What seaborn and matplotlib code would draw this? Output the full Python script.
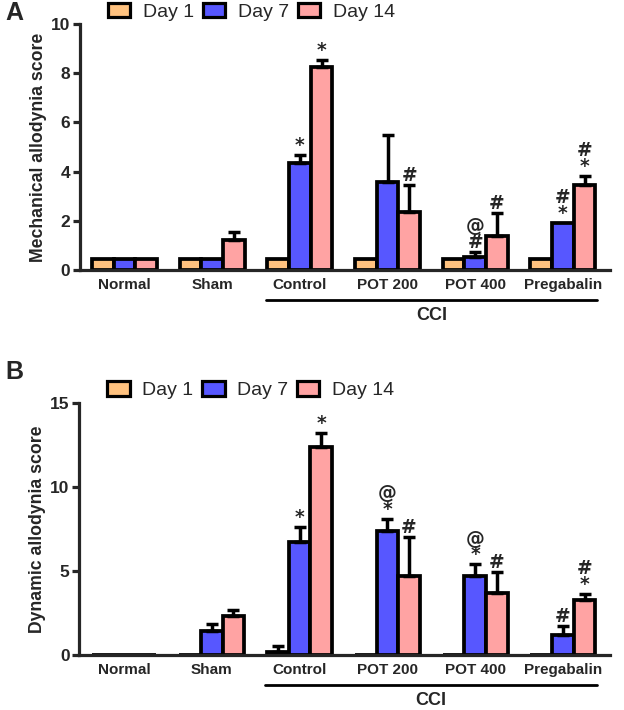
import numpy as np
import pandas as pd
import matplotlib
matplotlib.use("Agg")
import matplotlib.pyplot as plt
import seaborn as sns

# %%
GRUPOS = ["Normal", "Sham", "Control", "POT 200", "POT 400", "Pregabalin"]
DIAS = ["Day 1", "Day 7", "Day 14"]
COLORES = ["#FFC27F", "#5757FF", "#FFA3A3"]

# Panel A: mechanical allodynia (media y error hacia arriba)
mec_dia1 = [0.45, 0.45, 0.45, 0.45, 0.45, 0.45]
mec_dia7 = [0.45, 0.45, 4.35, 3.58, 0.53, 1.91]
mec_dia14 = [0.45, 1.22, 8.25, 2.36, 1.38, 3.46]
mec_err1 = [0, 0, 0, 0, 0, 0]
mec_err7 = [0, 0, 0.32, 1.90, 0.20, 0]
mec_err14 = [0, 0.32, 0.30, 1.10, 0.92, 0.36]
mec_marcas = [
    ("Control", "Day 7", "*"),
    ("Control", "Day 14", "*"),
    ("POT 200", "Day 14", "#"),
    ("POT 400", "Day 7", "@\n#"),
    ("POT 400", "Day 14", "#"),
    ("Pregabalin", "Day 7", "#\n*"),
    ("Pregabalin", "Day 14", "#\n*"),
]

# Panel B: dynamic allodynia
din_dia1 = [0, 0, 0.20, 0, 0, 0]
din_dia7 = [0, 1.43, 6.70, 7.35, 4.70, 1.20]
din_dia14 = [0, 2.32, 12.40, 4.70, 3.70, 3.30]
din_err1 = [0, 0, 0.34, 0, 0, 0]
din_err7 = [0, 0.42, 0.90, 0.75, 0.70, 0.52]
din_err14 = [0, 0.36, 0.80, 2.30, 1.25, 0.35]
din_marcas = [
    ("Control", "Day 7", "*"),
    ("Control", "Day 14", "*"),
    ("POT 200", "Day 7", "@\n*"),
    ("POT 200", "Day 14", "#"),
    ("POT 400", "Day 7", "@\n*"),
    ("POT 400", "Day 14", "#"),
    ("Pregabalin", "Day 7", "#"),
    ("Pregabalin", "Day 14", "#\n*"),
]


# %%
def armar_tabla(valores, errores):
    filas = []
    for dia, vals, errs in zip(DIAS, valores, errores):
        for grupo, v, e in zip(GRUPOS, vals, errs):
            filas.append({"grupo": grupo, "dia": dia, "valor": v, "err": e})
    return pd.DataFrame(filas)


def graficar_panel(fig, caja, tabla, marcas, ylabel, ymax, paso, letra, y_letra):
    ax = fig.add_axes(caja)
    sns.barplot(data=tabla, x="grupo", y="valor", hue="dia", order=GRUPOS,
                hue_order=DIAS, palette=COLORES, saturation=1, edgecolor="black",
                linewidth=2.7, width=0.74, errorbar=None, ax=ax)

    # barras de error solo hacia arriba, usando la posicion de cada barra
    posiciones = {}
    for dia, cont in zip(DIAS, ax.containers):
        sub = tabla[tabla["dia"] == dia].set_index("grupo").loc[GRUPOS]
        for grupo, barra, (_, fila) in zip(GRUPOS, cont.patches, sub.iterrows()):
            xc = barra.get_x() + barra.get_width() / 2
            posiciones[(grupo, dia)] = (xc, fila["valor"] + fila["err"])
            if fila["err"] > 0:
                ax.errorbar(xc, fila["valor"], yerr=[[0], [fila["err"]]],
                            fmt="none", ecolor="black", elinewidth=2.5,
                            capsize=4.5, capthick=2.5, zorder=1)

    for grupo, dia, texto in marcas:
        xc, tope = posiciones[(grupo, dia)]
        ax.annotate(texto, (xc, tope), xytext=(0, 0), textcoords="offset points",
                    ha="center", va="bottom", fontsize=13.5, linespacing=0.78,
                    family=["DejaVu Sans"], fontweight="bold")

    ax.set_xlim(-0.51, 5.54)
    ax.set_ylim(0, ymax)
    ax.set_yticks(np.arange(0, ymax + 0.1, paso))
    ax.set_xlabel("")
    ax.set_ylabel(ylabel, fontsize=12.7, fontweight="bold", labelpad=3)
    sns.despine(ax=ax)
    for lado in ["left", "bottom"]:
        ax.spines[lado].set_linewidth(2.3)
    ax.tick_params(axis="x", length=0, pad=6, labelsize=11)
    ax.tick_params(axis="y", length=5, width=2.3, pad=2, labelsize=12.5)
    for etiqueta in ax.get_xticklabels() + ax.get_yticklabels():
        etiqueta.set_fontweight("bold")

    # linea CCI debajo de los grupos operados
    alto_px = ax.bbox.height
    ini = ax.containers[0].patches[2].get_x() - 0.02
    fin = ax.containers[2].patches[5].get_x() + ax.containers[2].patches[5].get_width() + 0.02
    y_linea = -30 / alto_px
    ax.plot([ini, fin], [y_linea, y_linea], color="black", lw=2.0,
            transform=ax.get_xaxis_transform(), clip_on=False)
    ax.text((ini + fin) / 2, y_linea - 16 / alto_px, "CCI", ha="center",
            va="center", fontsize=13, fontweight="bold",
            transform=ax.get_xaxis_transform())

    ley = ax.legend(ncol=3, frameon=False, loc="center",
                    bbox_to_anchor=(0.323, 1 + 12.5 / alto_px), fontsize=14,
                    handlelength=1.15, handleheight=0.75, handletextpad=0.65,
                    columnspacing=0.45, borderaxespad=0, borderpad=0)
    for parche in ley.get_patches():
        parche.set_linewidth(2.3)

    fig.text(0.008, y_letra, letra, fontsize=18, fontweight="bold",
             ha="left", va="center")
    return ax


# %%
sns.set_style("ticks")
plt.rcParams["font.family"] = ["Liberation Sans", "DejaVu Sans"]

fig = plt.figure(figsize=(6.24, 7.10), dpi=100)

tabla_mec = armar_tabla([mec_dia1, mec_dia7, mec_dia14], [mec_err1, mec_err7, mec_err14])
tabla_din = armar_tabla([din_dia1, din_dia7, din_dia14], [din_err1, din_err7, din_err14])

graficar_panel(fig, [0.128, 0.620, 0.850, 0.346], tabla_mec, mec_marcas,
               "Mechanical allodynia score", 10, 2, "A", 0.982)
graficar_panel(fig, [0.127, 0.0775, 0.851, 0.355], tabla_din, din_marcas,
               "Dynamic allodynia score", 15, 5, "B", 0.476)

fig.savefig("out.png", dpi=100)
